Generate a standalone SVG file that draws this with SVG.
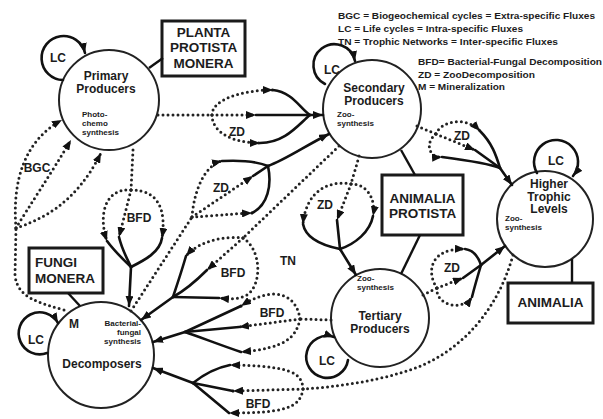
<svg xmlns="http://www.w3.org/2000/svg" width="603" height="419" viewBox="0 0 603 419">
<defs>
<style>
text{font-family:"Liberation Sans",Arial,Helvetica,sans-serif;font-weight:bold;fill:#1c1c1c}
.n{font-size:12px;text-anchor:middle}
.s{font-size:8px}
.se{font-size:8px;text-anchor:end}
.b{font-size:13.5px;text-anchor:middle}
.bl{font-size:13.5px;text-anchor:start}
.l{font-size:12px;text-anchor:middle}
.g{font-size:8.5px}
.circ{fill:#fff;stroke:#222;stroke-width:2}
.box{fill:#fff;stroke:#1a1a1a;stroke-width:3}
.sol{fill:none;stroke:#111;stroke-width:2.6;stroke-linecap:round}
.lk{fill:none;stroke:#111;stroke-width:2.4}
.dot{fill:none;stroke:#222;stroke-width:3;stroke-dasharray:0 5;stroke-linecap:round}
</style>
<marker id="ah" viewBox="0 0 10 8" markerWidth="10" markerHeight="8" refX="10" refY="4" orient="auto" markerUnits="userSpaceOnUse"><path d="M0,0 L10,4 L0,8 z" fill="#111"/></marker>
</defs>
<rect width="603" height="419" fill="#fff"/>

<g id="legend">
<text class="g" x="338" y="19" textLength="257" lengthAdjust="spacingAndGlyphs">BGC = Biogeochemical cycles = Extra-specific Fluxes</text>
<text class="g" x="338" y="32" textLength="185" lengthAdjust="spacingAndGlyphs">LC = Life cycles = Intra-specific Fluxes</text>
<text class="g" x="338" y="45" textLength="220" lengthAdjust="spacingAndGlyphs">TN = Trophic Networks = Inter-specific Fluxes</text>
<text class="g" x="418" y="65" textLength="184" lengthAdjust="spacingAndGlyphs">BFD= Bacterial-Fungal Decomposition</text>
<text class="g" x="418" y="78" textLength="117" lengthAdjust="spacingAndGlyphs">ZD = ZooDecomposition</text>
<text class="g" x="418" y="90" textLength="87" lengthAdjust="spacingAndGlyphs">M = Mineralization</text>
</g>

<g id="primary">
<circle class="circ" cx="109" cy="100" r="50"/>
<text class="n" x="106" y="80">Primary</text>
<text class="n" x="106" y="93">Producers</text>
<text class="s" x="82" y="117">Photo-</text>
<text class="s" x="82" y="126">chemo</text>
<text class="s" x="82" y="135">synthesis</text>
</g>

<g id="secondary">
<circle class="circ" cx="372" cy="109" r="49"/>
<text class="n" x="374" y="92">Secondary</text>
<text class="n" x="374" y="105">Producers</text>
<text class="s" x="337" y="117">Zoo-</text>
<text class="s" x="337" y="126">synthesis</text>
</g>

<g id="higher">
<circle class="circ" cx="545" cy="219" r="48"/>
<text class="n" x="549" y="188">Higher</text>
<text class="n" x="549" y="200.5">Trophic</text>
<text class="n" x="549" y="213">Levels</text>
<text class="s" x="505" y="221">Zoo-</text>
<text class="s" x="505" y="230">synthesis</text>
</g>

<g id="tertiary">
<circle class="circ" cx="380" cy="318" r="49"/>
<text class="s" x="357" y="281">Zoo-</text>
<text class="s" x="357" y="290">synthesis</text>
<text class="n" x="380" y="320">Tertiary</text>
<text class="n" x="380" y="333">Producers</text>
</g>

<g id="decomposers">
<circle class="circ" cx="101" cy="355" r="53"/>
<text class="n" x="74" y="328">M</text>
<text class="se" x="141" y="326">Bacterial-</text>
<text class="se" x="141" y="335">fungal</text>
<text class="se" x="141" y="344">synthesis</text>
<text class="n" x="102" y="368">Decomposers</text>
</g>

<g id="box-planta">
<rect class="box" x="162" y="21" width="83" height="55"/>
<text class="b" x="203.5" y="37">PLANTA</text>
<text class="b" x="203.5" y="52">PROTISTA</text>
<text class="b" x="203.5" y="68">MONERA</text>
</g>

<g id="box-animalia-protista">
<rect class="box" x="382" y="175" width="81" height="60"/>
<text class="b" x="422.5" y="203">ANIMALIA</text>
<text class="b" x="422.5" y="218">PROTISTA</text>
</g>

<g id="box-animalia">
<rect class="box" x="508" y="283" width="85" height="40"/>
<text class="b" x="550.5" y="307">ANIMALIA</text>
</g>

<g id="box-fungi">
<rect class="box" x="29" y="248" width="74" height="45"/>
<text class="bl" x="35" y="267">FUNGI</text>
<text class="bl" x="35" y="283">MONERA</text>
</g>

<g id="connectors">
<!-- kingdom links -->
<path class="lk" d="M149,68 L163,58"/>
<path class="lk" d="M401,150 L415,175"/>
<path class="lk" d="M420,235 L401,274"/>
<path class="lk" d="M572,259 L572,283"/>
<path class="lk" d="M68,293 L80,306"/>

<!-- LC loops -->
<path class="sol" marker-end="url(#ah)" d="M63,80 A22 22 0 1 1 85,53"/>
<path class="sol" marker-end="url(#ah)" d="M325,84 A21 21 0 1 1 355,61"/>
<path class="sol" marker-end="url(#ah)" d="M537,173 A22 22 0 1 1 573,176"/>
<path class="sol" marker-end="url(#ah)" d="M348,360 A21 21 0 1 1 334,337"/>
<path class="sol" marker-end="url(#ah)" d="M47,353 A21 21 0 1 1 58,323"/>

<!-- ZD1 primary -> secondary -->
<path class="dot" d="M158,115 L212,115"/>
<path class="dot" marker-end="url(#ah)" d="M212,115 C212,100 240,90 273,90"/>
<path class="dot" marker-end="url(#ah)" d="M212,115 L256,115"/>
<path class="dot" marker-end="url(#ah)" d="M212,115 C212,132 232,143 260,143"/>
<path class="sol" d="M273,90 C292,92 300,108 310,115"/>
<path class="sol" d="M260,143 C285,143 298,125 310,115"/>
<path class="sol" marker-end="url(#ah)" d="M256,115 L323,115"/>

<!-- ZD2 decomposers -> secondary -->
<path class="dot" d="M131,311 L192,217"/>
<path class="dot" marker-end="url(#ah)" d="M192,217 C194,190 205,165 222,161"/>
<path class="dot" marker-end="url(#ah)" d="M192,217 L253,176"/>
<path class="dot" marker-end="url(#ah)" d="M192,217 C210,216 230,214 252,213"/>
<path class="sol" d="M222,161 C240,160 258,162 268,166"/>
<path class="sol" d="M253,176 L268,166"/>
<path class="sol" d="M252,213 C268,205 272,185 268,166"/>
<path class="sol" marker-end="url(#ah)" d="M268,166 C285,160 305,146 329,134"/>

<!-- ZD3 secondary -> tertiary -->
<path class="dot" d="M359,156 C356,168 353,176 351,184"/>
<path class="dot" marker-end="url(#ah)" d="M351,184 C330,180 306,190 303,224"/>
<path class="dot" marker-end="url(#ah)" d="M351,184 L337,220"/>
<path class="dot" marker-end="url(#ah)" d="M351,184 C368,184 376,200 373,216"/>
<path class="sol" d="M303,224 C306,240 325,246 340,249"/>
<path class="sol" d="M337,220 L340,249"/>
<path class="sol" d="M373,216 C370,232 355,244 340,249"/>
<path class="sol" marker-end="url(#ah)" d="M340,249 L356,275"/>

<!-- ZD4 secondary -> higher -->
<path class="dot" d="M417,126 L436,134"/>
<path class="dot" marker-end="url(#ah)" d="M436,134 C440,122 465,115 480,131"/>
<path class="dot" marker-end="url(#ah)" d="M436,134 L475,150"/>
<path class="dot" marker-end="url(#ah)" d="M436,134 C425,142 428,158 442,157"/>
<path class="sol" d="M480,131 C492,143 496,155 500,168"/>
<path class="sol" d="M475,150 L500,168"/>
<path class="sol" d="M442,157 C465,160 488,163 500,168"/>
<path class="sol" marker-end="url(#ah)" d="M500,168 L512,185"/>

<!-- ZD5 tertiary -> higher -->
<path class="dot" d="M423,295 L437,288"/>
<path class="dot" marker-end="url(#ah)" d="M437,288 L463,278"/>
<path class="dot" marker-end="url(#ah)" d="M437,288 C426,272 430,248 465,249"/>
<path class="dot" marker-end="url(#ah)" d="M437,288 C435,305 462,312 472,297"/>
<path class="sol" d="M465,249 C473,250 478,256 481,265"/>
<path class="sol" d="M463,278 L481,265"/>
<path class="sol" d="M472,297 C475,285 478,275 481,265"/>
<path class="sol" marker-end="url(#ah)" d="M481,265 L505,246"/>

<!-- BFD1 primary -> decomposers -->
<path class="dot" d="M133,150 L131,190"/>
<path class="dot" marker-end="url(#ah)" d="M131,190 C105,188 98,215 107,241"/>
<path class="dot" marker-end="url(#ah)" d="M131,190 L119,237"/>
<path class="dot" marker-end="url(#ah)" d="M131,190 C160,190 166,212 162,238"/>
<path class="sol" d="M107,241 C115,252 124,260 131,267"/>
<path class="sol" d="M119,237 C122,250 127,258 131,267"/>
<path class="sol" d="M162,238 C160,252 145,260 131,267"/>
<path class="sol" marker-end="url(#ah)" d="M131,267 L129,306"/>

<!-- BFD2 secondary -> decomposers -->
<path class="dot" d="M339,146 L243,238"/>
<path class="dot" marker-end="url(#ah)" d="M243,238 L207,270"/>
<path class="dot" marker-end="url(#ah)" d="M243,238 C225,236 200,240 186,256"/>
<path class="dot" marker-end="url(#ah)" d="M243,238 C262,250 262,285 247,295 C238,300 228,299 219,298"/>
<path class="sol" d="M186,256 C182,270 177,285 173,297"/>
<path class="sol" d="M207,270 C195,282 182,292 173,297"/>
<path class="sol" d="M219,298 L173,297"/>
<path class="sol" marker-end="url(#ah)" d="M173,297 L141,320"/>

<!-- BFD3 tertiary -> decomposers -->
<path class="dot" d="M331,320 L300,319"/>
<path class="dot" marker-end="url(#ah)" d="M300,319 C298,305 290,295 275,294 C262,294 250,300 241,306"/>
<path class="dot" marker-end="url(#ah)" d="M300,319 L239,327"/>
<path class="dot" marker-end="url(#ah)" d="M300,319 C296,338 285,348 241,352"/>
<path class="sol" d="M241,306 L185,332"/>
<path class="sol" d="M239,327 L185,332"/>
<path class="sol" d="M241,352 C220,345 200,337 185,332"/>
<path class="sol" marker-end="url(#ah)" d="M185,332 L153,342"/>

<!-- BFD4 higher -> decomposers -->
<path class="dot" d="M513,255 C495,320 450,360 400,373 C370,382 335,387 303,389"/>
<path class="dot" marker-end="url(#ah)" d="M303,389 C302,372 290,366 230,365"/>
<path class="dot" marker-end="url(#ah)" d="M303,389 L233,391"/>
<path class="dot" marker-end="url(#ah)" d="M303,389 C300,408 285,413 229,413"/>
<path class="sol" d="M230,365 C215,368 203,375 193,383"/>
<path class="sol" d="M233,391 L193,383"/>
<path class="sol" d="M229,413 L193,383"/>
<path class="sol" marker-end="url(#ah)" d="M193,383 L153,368"/>

<!-- BGC decomposers -> primary -->
<path class="dot" d="M64,310 C40,303 17,298 15,275 L16,228"/>
<path class="dot" marker-end="url(#ah)" d="M16,228 C12,180 25,140 62,120"/>
<path class="dot" marker-end="url(#ah)" d="M16,228 C30,205 50,175 71,140"/>
<path class="dot" marker-end="url(#ah)" d="M16,228 C40,220 75,205 101,153"/>

<!-- connector labels -->
<text class="l" x="58" y="62">LC</text>
<text class="l" x="332" y="74">LC</text>
<text class="l" x="556" y="165">LC</text>
<text class="l" x="327" y="365">LC</text>
<text class="l" x="36" y="344">LC</text>
<text class="l" x="37" y="172">BGC</text>
<text class="l" x="237" y="136">ZD</text>
<text class="l" x="221" y="192">ZD</text>
<text class="l" x="325" y="209">ZD</text>
<text class="l" x="462" y="140">ZD</text>
<text class="l" x="452" y="272">ZD</text>
<text class="l" x="288" y="265">TN</text>
<text class="l" x="139" y="222">BFD</text>
<text class="l" x="233" y="277">BFD</text>
<text class="l" x="272" y="317">BFD</text>
<text class="l" x="258" y="408">BFD</text>
</g>
</svg>
